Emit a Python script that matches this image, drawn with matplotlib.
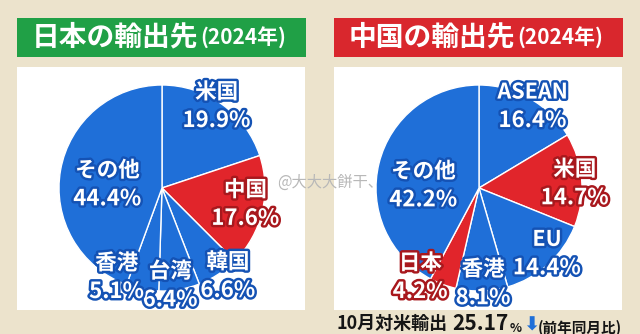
import matplotlib.pyplot as plt
import matplotlib.patheffects as pe

plt.rcParams['font.family'] = ['Noto Sans CJK JP', 'DejaVu Sans']

W, H = 640, 334

# データ (2024年)
jp_labels = ["米国", "中国", "韓国", "台湾", "香港", "その他"]
jp_values = [19.9, 17.6, 6.6, 6.4, 5.1, 44.4]
cn_labels = ["ASEAN", "米国", "EU", "香港", "日本", "その他"]
cn_values = [16.4, 14.7, 14.4, 8.1, 4.2, 42.2]

BLUE = '#1f6fd8'
RED = '#e1252b'
jp_colors = [BLUE, RED, BLUE, BLUE, BLUE, BLUE]
cn_colors = [BLUE, RED, BLUE, BLUE, RED, BLUE]

# ラベル位置 (円の半径を1とした座標)
jp_pos = [(0.53, 0.79), (0.81, -0.16), (0.64, -0.86), (0.08, -0.95), (-0.44, -0.87), (-0.53, 0.03)]
cn_pos = [(0.52, 0.79), (0.93, 0.04), (0.66, -0.64), (0.04, -0.93), (-0.57, -0.87), (-0.54, 0.02)]


def px(x0, y0, x1, y1):
    # ピクセルの箱 -> figure座標
    return [x0 / W, 1 - y1 / H, (x1 - x0) / W, (y1 - y0) / H]


fig = plt.figure(figsize=(6.4, 3.34), dpi=100)
fig.patch.set_facecolor('#ece3cc')


def panel(x0, title, title_color, labels, values, colors, pos, cx, cy=188, r=103):
    # タイトル
    ax_t = fig.add_axes(px(x0, 18, x0 + 289, 57))
    ax_t.set_facecolor(title_color)
    ax_t.set_xticks([])
    ax_t.set_yticks([])
    for s in ax_t.spines.values():
        s.set_visible(False)
    t1 = ax_t.text(15 / 289, 0.5, title, transform=ax_t.transAxes, color='white',
                   fontsize=20, fontweight='bold', va='center', ha='left')
    ax_t.annotate('(2024年)', xy=(1, 0.1), xycoords=t1, xytext=(1, 0), textcoords='offset points',
                  color='white', fontsize=15, fontweight='bold', va='bottom', ha='left')

    # 白いパネル
    ax_bg = fig.add_axes(px(x0, 67, x0 + 288, 310))
    ax_bg.set_facecolor('white')
    ax_bg.set_xticks([])
    ax_bg.set_yticks([])
    for s in ax_bg.spines.values():
        s.set_visible(False)

    # 円グラフ
    rr = r * 1.02
    ax_p = fig.add_axes(px(cx - rr, cy - rr, cx + rr, cy + rr))
    ax_p.pie(values, colors=colors, startangle=90, counterclock=False, radius=1,
             wedgeprops=dict(edgecolor='white', linewidth=1))
    ax_p.set_xlim(-1.02, 1.02)
    ax_p.set_ylim(-1.02, 1.02)
    ax_p.axis('off')

    for lab, val, col, (x, y) in zip(labels, values, colors, pos):
        edge = '#a8181d' if col == RED else '#1452b4'
        fx = [pe.withStroke(linewidth=3.5, foreground=edge)]
        ax_p.annotate(lab, xy=(x, y), xytext=(0, 10.5), textcoords='offset points',
                      ha='center', va='center', color='white', fontsize=15.5,
                      fontweight='bold', path_effects=fx)
        ax_p.annotate(f"{val:.1f}%", xy=(x, y), xytext=(0, -10), textcoords='offset points',
                      ha='center', va='center', color='white', fontsize=16,
                      fontweight='bold', path_effects=fx)


panel(17, "日本の輸出先", '#20a046', jp_labels, jp_values, jp_colors, jp_pos, cx=162)
panel(334, "中国の輸出先", '#d9272d', cn_labels, cn_values, cn_colors, cn_pos, cx=479)

# 上に重ねる透明な軸 (下のテキストとウォーターマーク用)
ax_f = fig.add_axes([0, 0, 1, 1])
ax_f.axis('off')

yb = 1 - 323 / H
k = dict(fontweight='bold', color='#151515', va='baseline', ha='left', textcoords='offset points')
b1 = ax_f.text(337 / W, yb, "10月対米輸出", fontsize=13, fontweight='bold', color='#151515',
               va='center', transform=ax_f.transAxes)
b2 = ax_f.annotate("25.17", xy=(1, 0.12), xycoords=b1, xytext=(3, 0), fontsize=15, **k)
b3 = ax_f.annotate("%", xy=(1, 0.12), xycoords=b2, xytext=(1, 0), fontsize=9, **k)
b4 = ax_f.annotate("⬇", xy=(1, 0.0), xycoords=b3, xytext=(0.5, 0), fontsize=14,
                   family='DejaVu Sans', fontweight='bold', color=BLUE, va='bottom', ha='left',
                   textcoords='offset points')
ax_f.annotate("(前年同月比)", xy=(1, 0.12), xycoords=b4, xytext=(-1, 0), fontsize=10.5, **k)

# ウォーターマーク
ax_f.text(277 / W, 1 - 182 / H, "@大大大餅干、", fontsize=11, color='#b8b8b8', va='center',
          transform=ax_f.transAxes)

fig.savefig('out.png', dpi=100, facecolor=fig.get_facecolor())
